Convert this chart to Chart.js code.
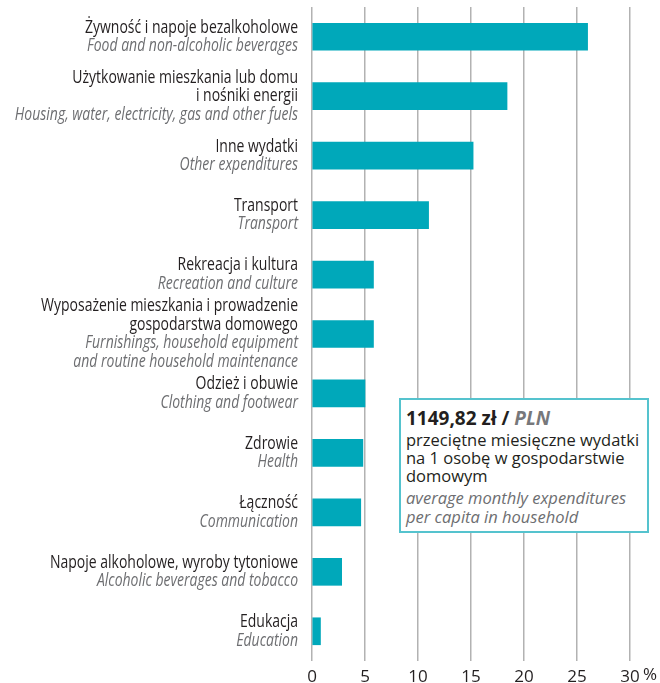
<!DOCTYPE html>
<html>
<head>
<meta charset="utf-8">
<script src="https://cdn.jsdelivr.net/npm/chart.js@4"></script>
<style>
  html, body { margin: 0; padding: 0; background: #fff; }
  #wrap { position: relative; width: 660px; height: 683px; }
  #note {
    position: absolute; left: 399px; top: 398px; width: 250px; height: 135px;
    box-sizing: border-box; border: 2px solid #55c3ce; background: #fff;
    padding: 5px 0 0 5px; font-family: "Open Sans", sans-serif; color: #231f20;
  }
  #note .big { font-weight: bold; font-size: 19px; line-height: 26px; }
  #note .big i { color: #77787b; }
  #note .pl { font-size: 16.5px; line-height: 18px; }
  #note .en { font-size: 16.5px; line-height: 19px; font-style: italic; color: #6d6e71; margin-top: 3px; }
</style>
</head>
<body>
<div id="wrap">
  <canvas id="myChart" width="660" height="683"></canvas>
  <div id="note">
    <div class="big">1149,82 zł / <i>PLN</i></div>
    <div class="pl">przeciętne miesięczne wydatki<br>na 1 osobę w gospodarstwie<br>domowym</div>
    <div class="en">average monthly expenditures<br>per capita in household</div>
  </div>
</div>
<script>
// category names, Polish (black) and English (grey italic)
const categoriesPl = [
  ['Żywność i napoje bezalkoholowe'],
  ['Użytkowanie mieszkania lub domu', 'i nośniki energii'],
  ['Inne wydatki'],
  ['Transport'],
  ['Rekreacja i kultura'],
  ['Wyposażenie mieszkania i prowadzenie', 'gospodarstwa domowego'],
  ['Odzież i obuwie'],
  ['Zdrowie'],
  ['Łączność'],
  ['Napoje alkoholowe, wyroby tytoniowe'],
  ['Edukacja'],
];
const categoriesEn = [
  ['Food and non-alcoholic beverages'],
  ['Housing, water, electricity, gas and other fuels'],
  ['Other expenditures'],
  ['Transport'],
  ['Recreation and culture'],
  ['Furnishings, household equipment', 'and routine household maintenance'],
  ['Clothing and footwear'],
  ['Health'],
  ['Communication'],
  ['Alcoholic beverages and tobacco'],
  ['Education'],
];
// share of expenditures, %
const shares = [26.0, 18.4, 15.2, 11.0, 5.8, 5.8, 5.0, 4.8, 4.6, 2.8, 0.8];
const xTicks = [0, 5, 10, 15, 20, 25, 30];

const labelFont = '"Open Sans", sans-serif';

// draws the two-language category labels left of the bars,
// squeezed horizontally to look like the condensed original face
const categoryLabels = {
  id: 'categoryLabels',
  afterDraw(chart) {
    const ctx = chart.ctx;
    const yScale = chart.scales.y;
    const lh = 18.5;
    const right = 298;
    ctx.save();
    ctx.font = '18px ' + labelFont;
    const sx = 213 / ctx.measureText('Żywność i napoje bezalkoholowe').width;
    ctx.scale(sx, 1);
    ctx.textAlign = 'right';
    ctx.textBaseline = 'middle';
    categoriesPl.forEach((pl, i) => {
      const en = categoriesEn[i];
      const n = pl.length + en.length;
      let y = yScale.getPixelForValue(i) - (n - 1) * lh / 2;
      pl.forEach((line) => {
        ctx.font = '18px ' + labelFont;
        ctx.fillStyle = '#231f20';
        ctx.fillText(line, right / sx, y);
        y += lh;
      });
      en.forEach((line) => {
        ctx.font = 'italic 18px ' + labelFont;
        ctx.fillStyle = '#6d6e71';
        ctx.fillText(line, right / sx, y);
        y += lh;
      });
    });
    ctx.restore();
    // percent sign after the last tick
    const xScale = chart.scales.x;
    ctx.save();
    ctx.font = '17px "Open Sans", sans-serif';
    ctx.fillStyle = '#231f20';
    ctx.textAlign = 'left';
    ctx.textBaseline = 'middle';
    ctx.fillText('%', xScale.getPixelForValue(30) + 13, 675);
    ctx.restore();
  },
};

const ctx = document.getElementById('myChart').getContext('2d');
// eslint-disable-next-line
const myChart = new Chart(ctx, {
  type: 'bar',
  data: {
    labels: categoriesPl.map((l) => l.join(' ')),
    datasets: [{
      data: shares,
      backgroundColor: '#00a8ba',
      barThickness: 27,
    }],
  },
  options: {
    indexAxis: 'y',
    responsive: false,
    animation: false,
    layout: { padding: { top: 7, right: 30, bottom: 0, left: 0 } },
    plugins: { legend: { display: false }, tooltip: { enabled: false } },
    scales: {
      y: {
        ticks: { display: false },
        grid: { display: false },
        border: { display: false },
        afterFit(scale) { scale.width = 312; },
      },
      x: {
        min: 0,
        max: 30,
        afterBuildTicks(scale) { scale.ticks = xTicks.map((v) => ({ value: v })); },
        ticks: {
          padding: 6,
          color: '#231f20',
          font: { family: '"Open Sans", sans-serif', size: 17 },
        },
        grid: { color: '#b2b2b2', lineWidth: 1.5, drawTicks: false },
        border: { display: false },
        afterFit(scale) { scale.height = 22; },
      },
    },
  },
  plugins: [categoryLabels],
});
</script>
</body>
</html>
